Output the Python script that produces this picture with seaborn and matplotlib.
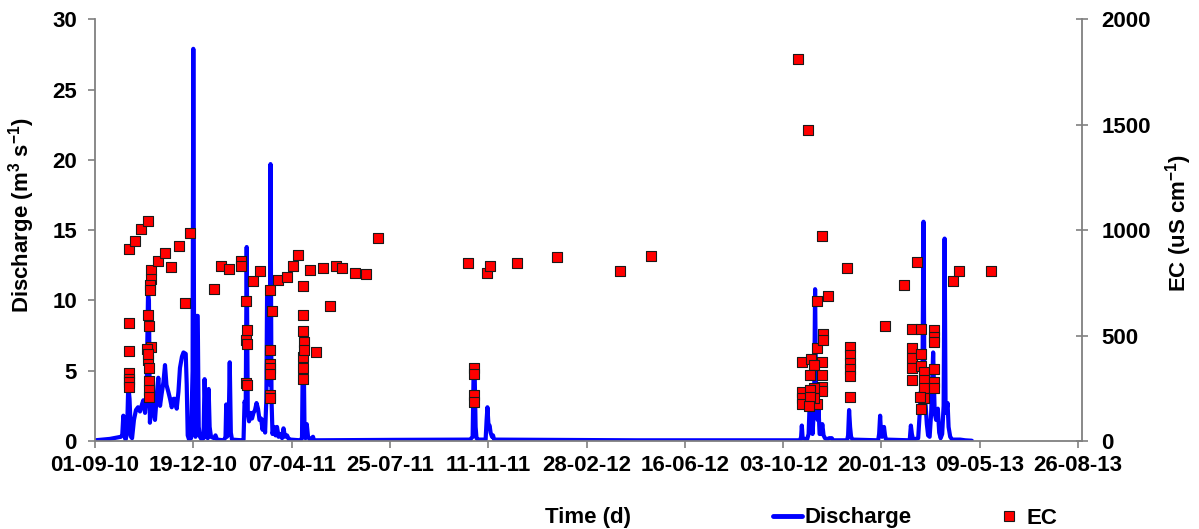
import numpy as np
import pandas as pd
import matplotlib
matplotlib.use("Agg")
import matplotlib.pyplot as plt
import matplotlib.dates as mdates
from matplotlib.lines import Line2D
import seaborn as sns

# ---------------- data (days since 01-09-2010) ----------------
start_date = "2010-09-01"

q_day = [0, 16.6, 28.8, 30.2, 31.4, 32.7, 33.8, 35.5, 36.9, 38.3, 39.9, 41.1, 43.2, 45.4, 47.7,
         49.9, 52.1, 53.6, 55.5, 57.1, 58.8, 59.8, 60.9, 62.8, 64.9, 66.5, 68.8, 70.2, 72.1,
         74.0, 75.9, 77.6, 79.2, 81.3, 83.2, 85.1, 87.1, 88.7, 90.6, 92.5, 94.2, 96.4, 98.1,
         100.6, 101.7, 102.8, 104.3, 106.5, 108.2, 109.0, 110.0, 111.4, 112.8, 113.9, 115.0,
         116.4, 118.3, 120.3, 121.5, 122.6, 123.7, 125.0, 126.0, 127.1, 128.6, 132.0, 133.6,
         135.3, 143.0, 144.7, 145.5, 146.3, 148.0, 149.4, 150.6, 151.9, 163.0, 164.7, 165.8,
         167.1, 168.2, 169.4, 170.8, 172.5, 174.1, 175.7, 177.4, 179.1, 180.7, 182.4, 184.1,
         185.8, 186.9, 188.6, 190.0, 190.8, 192.5, 193.8, 194.6, 195.7, 196.8, 198.5, 200.2,
         201.8, 203.5, 205.2, 207.4, 209.0, 210.7, 212.9, 215.1, 216.8, 227.3, 229.5, 230.4,
         231.6, 232.3, 233.4, 234.8, 236.2, 238.4, 241.7, 242.8, 330.0, 415.9, 418.7, 419.8,
         420.9, 422.0, 423.0, 424.7, 433.1, 434.2, 435.1, 436.4, 437.5, 438.6, 440.2, 441.3,
         442.5, 600.0, 781.8, 782.9, 783.7, 784.6, 789.5, 791.2, 792.3, 793.4, 794.5, 795.6,
         797.3, 798.4, 799.5, 801.2, 802.3, 803.4, 805.1, 806.4, 807.8, 809.4, 811.7, 813.9,
         816.9, 818.4, 833.9, 835.0, 836.1, 837.2, 838.3, 839.9, 868.3, 869.4, 870.5, 871.5,
         872.6, 874.8, 875.9, 877.0, 903.3, 904.6, 905.7, 907.1, 912.7, 914.4, 915.5, 916.6,
         917.5, 918.6, 919.7, 921.0, 922.3, 923.7, 925.4, 927.1, 929.3, 931.0, 932.6, 934.5,
         936.0, 937.6, 939.3, 940.9, 942.0, 943.1, 944.2, 945.3, 946.4, 948.2, 950.4, 959.2,
         964.8, 972.2]

q_val = [0.05, 0.15, 0.3, 0.4, 1.8, 0.6, 0.1, 0.5, 4.0, 3.0, 0.3, 0.2, 1.5, 2.2, 2.4,
         2.1, 2.6, 2.9, 2.0, 3.0, 10.5, 10.0, 1.3, 3.6, 2.0, 1.5, 3.5, 4.5, 2.5,
         3.4, 4.2, 5.4, 4.0, 3.5, 3.0, 2.4, 3.0, 3.0, 2.3, 3.5, 5.2, 6.0, 6.3,
         6.2, 4.0, 0.4, 0.1, 0.2, 5.0, 27.9, 3.0, 0.3, 8.9, 8.9, 1.0,
         0.3, 0.1, 0.2, 4.4, 2.0, 0.3, 0.2, 3.7, 1.0, 0.3, 0.2, 0.4,
         0.1, 0.05, 0.3, 2.6, 0.3, 0.5, 5.6, 0.6, 0.1, 0.05, 0.1, 2.8,
         2.5, 13.8, 2.0, 1.4, 2.0, 1.6, 2.0, 2.2, 2.7, 2.3, 1.5, 1.6,
         0.8, 1.5, 0.6, 3.0, 10.5, 9.0, 4.0, 19.7, 3.0, 0.5, 1.0, 0.4,
         1.0, 0.3, 0.5, 0.2, 0.9, 0.3, 0.4, 0.1, 0.1, 0.05, 0.2, 6.0,
         5.0, 0.8, 0.2, 1.2, 0.3, 0.1, 0.3, 0.05, 0.08, 0.1, 0.3, 5.0,
         5.0, 1.0, 0.2, 0.1, 0.1, 1.5, 2.4, 1.0, 1.1, 0.6, 0.3, 0.4,
         0.1, 0.05, 0.05, 0.3, 1.1, 0.2, 0.1, 0.5, 2.5, 3.0, 2.0, 0.5,
         2.5, 10.8, 3.0, 1.5, 2.2, 0.5, 0.5, 1.2, 0.4, 0.2, 0.1, 0.2,
         0.2, 0.05, 0.05, 0.4, 2.2, 1.0, 0.3, 0.1, 0.05, 0.5, 1.8, 0.6,
         0.3, 1.0, 0.4, 0.1, 0.05, 1.1, 0.5, 0.1, 0.2, 2.0, 3.5, 3.0,
         5.0, 15.6, 3.0, 2.5, 1.2, 0.4, 0.3, 2.0, 6.3, 2.0, 1.5, 2.3,
         0.6, 0.2, 0.5, 2.5, 14.4, 2.0, 2.2, 2.7, 1.0, 0.3, 0.1, 0.1,
         0.05, 0.02]

ec_day = [38.1, 38.1, 38.1, 38.1, 38.1, 38.1, 38.1,
          44.3, 51.3,
          58.8, 58.8, 58.8,
          62.1, 62.1, 62.1,
          61.3, 61.3,
          59.8, 59.8, 59.8, 59.8, 59.8,
          58.0, 59.2, 69.5, 77.6, 84.6, 93.1, 99.8, 105.7, 132.3, 139.8, 148.6,
          161.5, 161.5,
          167.5, 167.5, 167.5,
          168.9, 168.9, 168.9,
          175.2, 182.6,
          194.0, 194.0, 194.0, 194.0, 194.0, 194.0, 194.0,
          196.3, 203.3, 212.6, 219.6, 225.5,
          230.7, 230.7, 230.7, 230.7, 230.7, 230.7,
          231.4, 231.4,
          244.7, 238.5, 252.5, 260.6, 267.3, 273.6, 288.4, 300.5, 314.2,
          414.0,
          420.7, 420.7, 420.7, 420.7,
          434.4, 438.1, 467.7, 512.3, 582.6, 616.3,
          779.3, 790.4,
          806.5, 806.5, 806.5, 806.5, 806.5,
          834.2, 812.6,
          800.4, 800.4, 800.4,
          807.7, 807.7,
          783.8, 783.8, 783.8, 783.8,
          794.1,
          796.9, 796.9, 796.9,
          792.9, 792.9, 792.9,
          792.1,
          836.8, 836.8, 836.8, 836.8, 836.8, 836.8,
          876.1, 897.2, 911.3, 951.3, 958.2, 993.3,
          905.7, 905.7, 905.7, 905.7, 905.7,
          916.1, 916.1, 916.1, 916.1,
          918.6, 918.6, 918.6, 918.6,
          930.5, 930.5, 930.5, 930.5, 930.5, 930.5,
          914.4]

ec_val = [911, 559, 427, 322, 293, 280, 257,
          947, 1004,
          1043, 596, 383,
          812, 767, 446,
          742, 717,
          544, 344, 285, 241, 209,
          438, 411, 856, 892, 824, 927, 654, 988, 720, 830, 815,
          854, 832,
          663, 477, 273,
          525, 462, 265,
          761, 805,
          714, 430, 367, 344, 320, 217, 202,
          615, 764, 780, 829, 883,
          736, 599, 520, 399, 344, 296,
          470, 430,
          422, 812, 821, 638, 832, 821, 799, 793, 961,
          843,
          344, 320, 217, 186,
          796, 832, 843, 873, 805, 879,
          1810, 1475,
          974, 375, 315, 257, 238,
          819, 686,
          666, 443, 175,
          509, 477,
          375, 233, 206, 175,
          388,
          360, 249, 202,
          312, 241, 209,
          168,
          445, 407, 372, 341, 310, 211,
          547, 741, 848, 761, 805, 805,
          530, 441, 394, 344, 288,
          530, 411, 355, 150,
          328, 288, 249, 202,
          526, 492, 470, 340, 280, 249,
          209]

x_tick_labels = ["01-09-10", "19-12-10", "07-04-11", "25-07-11", "11-11-11", "28-02-12",
                 "16-06-12", "03-10-12", "20-01-13", "09-05-13", "26-08-13"]
x_end_date = "2013-08-30"
q_ticks = [0, 5, 10, 15, 20, 25, 30]
ec_ticks = [0, 500, 1000, 1500, 2000]

# ---------------- build frames ----------------
t0 = pd.Timestamp(start_date)
q_df = pd.DataFrame({"date": t0 + pd.to_timedelta(q_day, unit="D"), "Discharge": q_val})
ec_df = pd.DataFrame({"date": t0 + pd.to_timedelta(ec_day, unit="D"), "EC": ec_val})

# ---------------- style ----------------
sns.set_style("white")
plt.rcParams["font.family"] = ["Liberation Sans", "DejaVu Sans"]
plt.rcParams["font.weight"] = "bold"
plt.rcParams["axes.labelweight"] = "bold"
plt.rcParams["text.color"] = "black"
plt.rcParams["axes.labelcolor"] = "black"
plt.rcParams["mathtext.fontset"] = "custom"
plt.rcParams["mathtext.rm"] = "Liberation Sans:bold"
plt.rcParams["mathtext.bf"] = "Liberation Sans:bold"

W, H = 1199, 529
fig = plt.figure(figsize=(W / 100, H / 100), dpi=100)
L, R, T, B = 95, 1081.7, 19.3, 441
ax = fig.add_axes([L / W, 1 - B / H, (R - L) / W, (B - T) / H])
ax2 = ax.twinx()

blue = "#0000FF"
red = "#FF0000"
spine_c = "#808080"

sns.lineplot(data=q_df, x="date", y="Discharge", ax=ax, color=blue, linewidth=3.0,
             estimator=None, sort=True)
for ln in ax.lines:
    ln.set_solid_joinstyle("round")
    ln.set_solid_capstyle("round")

sns.scatterplot(data=ec_df, x="date", y="EC", ax=ax2, marker="s", s=58, color=red,
                edgecolor="#1a1a1a", linewidth=0.8, zorder=5)

# axes limits / ticks
ax.set_xlim(t0, pd.Timestamp(x_end_date))
ax.set_ylim(0, 30)
ax2.set_ylim(0, 2000)
tick_dates = [pd.to_datetime(s, format="%d-%m-%y") for s in x_tick_labels]
ax.set_xticks(tick_dates)
ax.set_xticklabels(x_tick_labels)
ax.set_yticks(q_ticks)
ax.set_yticklabels([str(v) for v in q_ticks])
ax2.set_yticks(ec_ticks)
ax2.set_yticklabels([str(v) for v in ec_ticks])

for a in (ax, ax2):
    a.spines["top"].set_visible(False)
    for side in ("left", "bottom", "right"):
        a.spines[side].set_color(spine_c)
        a.spines[side].set_linewidth(1.3)
ax.spines["right"].set_visible(False)
ax2.spines["left"].set_visible(False)
ax2.spines["bottom"].set_visible(False)

ax.tick_params(axis="x", direction="out", length=5, width=1.2, color=spine_c,
               labelcolor="black", labelsize=16, pad=5, bottom=True)
ax.tick_params(axis="y", direction="out", length=5, width=1.2, color=spine_c,
               labelcolor="black", labelsize=16, pad=8, left=True)
ax2.tick_params(axis="y", direction="inout", length=8, width=1.2, color=spine_c,
                labelcolor="black", labelsize=16, pad=10, right=True)
for lab in ax.get_xticklabels() + ax.get_yticklabels() + ax2.get_yticklabels():
    lab.set_fontweight("bold")

ax.grid(False)
ax2.grid(False)

# axis labels
ax.set_xlabel("Time (d)", fontsize=16, fontweight="bold", color="black")
ax.xaxis.set_label_coords(0.5, (B - 518) / (B - T))
ax.xaxis.label.set_va("center")

ax.set_ylabel(r"Discharge (m$^{\mathbf{3}}$ s$^{\mathbf{-1}}$)", fontsize=16,
              fontweight="bold", color="black")
ax.yaxis.set_label_coords((22 - L) / (R - L), (B - 215) / (B - T))
ax.yaxis.label.set_va("center")

ax2.set_ylabel(r"EC (uS cm$^{\mathbf{-1}}$)", fontsize=16, fontweight="bold",
               rotation=90, color="black")
ax2.yaxis.set_label_coords((1179 - L) / (R - L), (B - 223) / (B - T))
ax2.yaxis.label.set_va("center")

# legend
handles = [Line2D([0], [0], color=blue, lw=3.5),
           Line2D([0], [0], marker="s", linestyle="none", markersize=7.2,
                  markerfacecolor=red, markeredgecolor="#1a1a1a", markeredgewidth=0.8)]
leg = fig.legend(handles, ["Discharge", "EC"], loc="center left",
                 bbox_to_anchor=(772.7 / W, 1 - 518 / H), ncol=2, frameon=False,
                 handlelength=1.3, handletextpad=0.15, columnspacing=3.7,
                 borderpad=0, borderaxespad=0, prop={"weight": "bold", "size": 16})
for txt in leg.get_texts():
    txt.set_color("black")

fig.savefig("out.png", dpi=100)
